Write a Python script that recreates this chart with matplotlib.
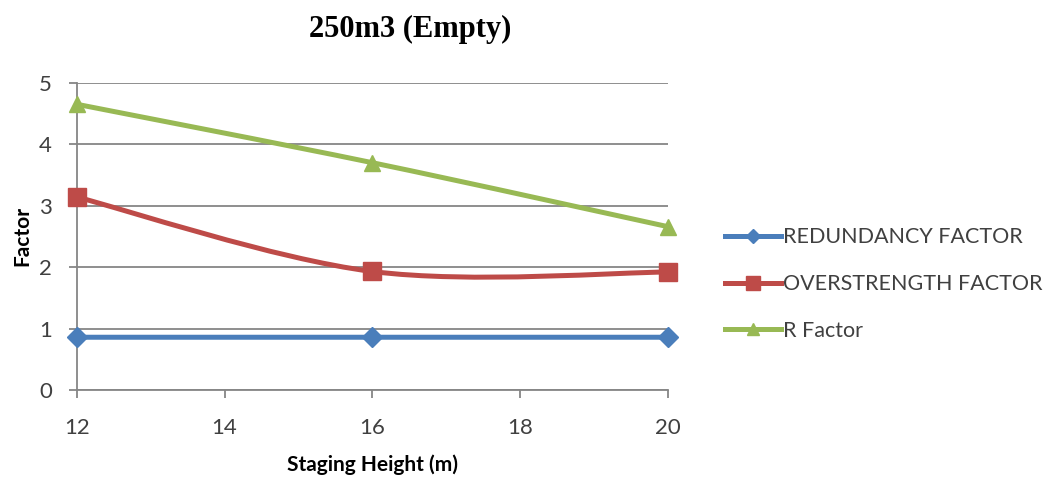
import matplotlib
matplotlib.use("Agg")
import matplotlib.pyplot as plt
import numpy as np
from matplotlib.path import Path
from matplotlib.patches import PathPatch
from matplotlib.lines import Line2D

# data
heights = [12, 16, 20]
redundancy = [0.86, 0.86, 0.86]
overstrength = [3.14, 1.93, 1.92]
r_factor = [4.65, 3.70, 2.66]

labels = ["REDUNDANCY FACTOR", "OVERSTRENGTH FACTOR", "R Factor"]
colors = ["#4A7EBB", "#BE4B48", "#98B954"]
markers = ["D", "s", "^"]
msizes = [10, 13, 12]


def smooth_path(xs, ys):
    # excel style smoothed line: cubic bezier through the points
    pts = np.column_stack([xs, ys]).astype(float)
    n = len(pts)
    verts = [pts[0]]
    codes = [Path.MOVETO]
    for i in range(n - 1):
        p0 = pts[i - 1] if i > 0 else pts[i]
        p3 = pts[i + 2] if i + 2 < n else pts[i + 1]
        c1 = pts[i] + (pts[i + 1] - p0) / 6.0
        c2 = pts[i + 1] - (p3 - pts[i]) / 6.0
        verts += [c1, c2, pts[i + 1]]
        codes += [Path.CURVE4] * 3
    return Path(verts, codes)


plt.rcParams['font.family'] = ['Lato', 'DejaVu Sans']
fig = plt.figure(figsize=(10.53, 4.84), dpi=100)
ax = fig.add_axes([0.073, 0.194, 0.561, 0.635])

handles = []
for vals, lab, col, mk, ms in zip([redundancy, overstrength, r_factor], labels, colors, markers, msizes):
    patch = PathPatch(smooth_path(heights, vals), fill=False, edgecolor=col, lw=3.6,
                      capstyle='round', joinstyle='round', zorder=3, clip_on=False)
    ax.add_patch(patch)
    ax.plot(heights, vals, linestyle='none', marker=mk, ms=ms, color=col, zorder=4, clip_on=False)
    handles.append(Line2D([], [], color=col, lw=3.6, marker=mk, ms=ms * 0.75, label=lab))

ax.set_xlim(12, 20)
ax.set_ylim(0, 5)
ax.set_xticks([12, 14, 16, 18, 20])
ax.set_yticks([0, 1, 2, 3, 4, 5])
ax.yaxis.grid(True, color="#868686", lw=1.3)
ax.set_axisbelow(True)
for s in ['top', 'right']:
    ax.spines[s].set_visible(False)
for s in ['left', 'bottom']:
    ax.spines[s].set_color("#868686")
    ax.spines[s].set_linewidth(1.3)
ax.tick_params(axis='both', colors="#868686", length=6, width=1.3, labelsize=16, labelcolor="#404040")
ax.tick_params(axis='x', pad=14)
ax.tick_params(axis='y', pad=12)

ax.set_xlabel("Staging Height (m)", fontsize=15, fontweight='bold', labelpad=12)
ax.set_ylabel("Factor", fontsize=15, fontweight='bold', labelpad=5)
fig.text(0.39, 0.94, "250m3 (Empty)", fontsize=22, fontweight='bold',
         family='Liberation Serif', ha='center', va='center')

fig.legend(handles=handles, loc='center left', bbox_to_anchor=(0.67, 0.413), frameon=False,
           fontsize=15.5, handlelength=2.6, handletextpad=0.1, labelspacing=1.25,
           labelcolor="#404040")

fig.savefig("out.png", dpi=100)
